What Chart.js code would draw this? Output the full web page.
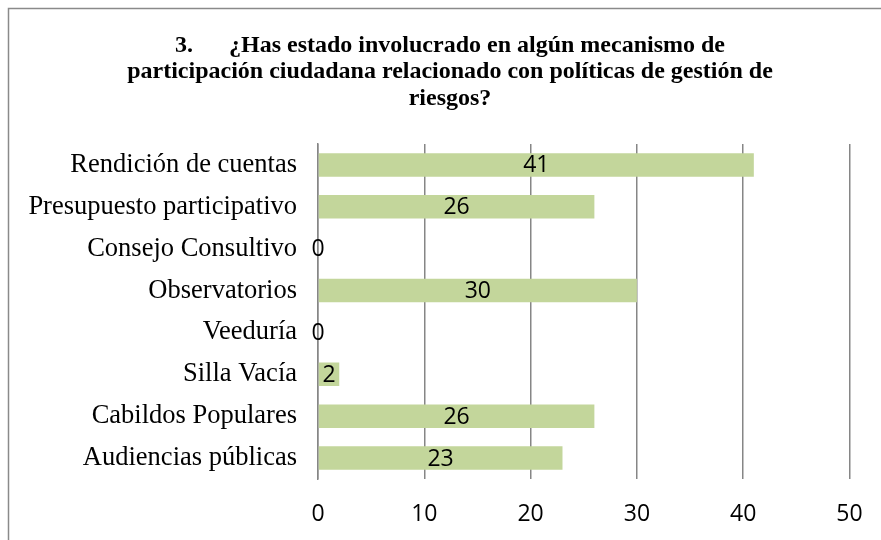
<!DOCTYPE html>
<html>
<head>
<meta charset="utf-8">
<script src="https://cdn.jsdelivr.net/npm/chart.js@4/dist/chart.umd.min.js"></script>
<style>
html,body{margin:0;padding:0;background:#fff;}
#wrap{width:881px;height:540px;position:relative;}
</style>
</head>
<body>
<div id="wrap"><canvas id="c" width="881" height="540"></canvas></div>
<script>
const titleLines = [
  "3.\u00A0\u00A0\u00A0\u00A0\u00A0\u00A0¿Has estado involucrado en algún mecanismo de",
  "participación ciudadana relacionado con políticas de gestión de",
  "riesgos?"
];
const categories = [
  "Rendición de cuentas",
  "Presupuesto participativo",
  "Consejo Consultivo",
  "Observatorios",
  "Veeduría",
  "Silla Vacía",
  "Cabildos Populares",
  "Audiencias públicas"
];
const values = [41, 26, 0, 30, 0, 2, 26, 23];
const xTicks = [0, 10, 20, 30, 40, 50];

const labelFont = "'Open Sans', 'DejaVu Sans', sans-serif";
const serifFont = "'Liberation Serif', 'DejaVu Serif', serif";

const framePlugin = {
  id: 'frame',
  beforeDraw(chart) {
    const ctx = chart.ctx;
    ctx.save();
    ctx.fillStyle = '#fff';
    ctx.fillRect(0, 0, chart.width, chart.height);
    ctx.strokeStyle = '#8a8a8a';
    ctx.lineWidth = 1.5;
    ctx.beginPath();
    ctx.moveTo(8.5, chart.height + 2);
    ctx.lineTo(8.5, 8.5);
    ctx.lineTo(chart.width + 2, 8.5);
    ctx.stroke();
    // title
    ctx.fillStyle = '#000';
    ctx.font = "bold 24px " + serifFont;
    ctx.textAlign = 'center';
    ctx.textBaseline = 'middle';
    titleLines.forEach((t, i) => ctx.fillText(t, 450, 45.5 + i * 26.5));
    ctx.restore();
  }
};

const valueLabels = {
  id: 'valueLabels',
  afterDatasetsDraw(chart) {
    const ctx = chart.ctx;
    const meta = chart.getDatasetMeta(0);
    ctx.save();
    ctx.font = "23px " + labelFont;
    ctx.fillStyle = '#000';
    ctx.textAlign = 'center';
    ctx.textBaseline = 'middle';
    meta.data.forEach((bar, i) => {
      const x = (bar.x + bar.base) / 2;
      ctx.fillText(String(values[i]), x, bar.y + 1);
    });
    ctx.restore();
  }
};

new Chart(document.getElementById('c'), {
  type: 'bar',
  data: {
    labels: categories,
    datasets: [{
      data: values,
      backgroundColor: '#C3D69B',
      borderWidth: 0,
      categoryPercentage: 1.0,
      barPercentage: 0.56
    }]
  },
  options: {
    indexAxis: 'y',
    responsive: false,
    animation: false,
    devicePixelRatio: 1,
    layout: { padding: { top: 144, right: 31.5, bottom: 0, left: 0 } },
    plugins: {
      legend: { display: false },
      tooltip: { enabled: false },
      title: { display: false }
    },
    scales: {
      x: {
        min: 0, max: 50,
        afterBuildTicks(scale) { scale.ticks = xTicks.map(v => ({ value: v })); },
        grid: { color: '#868686', lineWidth: 1.5, drawTicks: false },
        border: { display: false },
        ticks: { color: '#000', font: { family: labelFont, size: 23 }, padding: 22, maxRotation: 0 },
        afterFit(scale) { scale.height = 61; scale.paddingLeft = 0; scale.paddingRight = 0; }
      },
      y: {
        grid: { display: false, drawTicks: false },
        border: { display: true, color: '#868686', width: 1.5 },
        ticks: { color: '#000', font: { family: serifFont, size: 26.5 }, padding: 21 },
        afterFit(scale) { scale.width = 318; scale.paddingTop = 0; scale.paddingBottom = 0; }
      }
    }
  },
  plugins: [framePlugin, valueLabels]
});
</script>
</body>
</html>
